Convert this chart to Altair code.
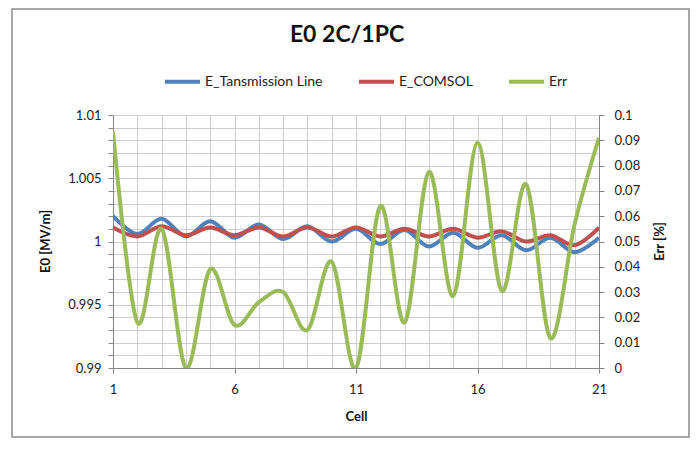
import altair as alt
import pandas as pd

cells = list(range(1, 22))
e_tl = [1.0020, 1.0006, 1.0018, 1.0004, 1.0016, 1.0003, 1.00135, 1.0002, 1.0012, 1.0000, 1.0010,
        0.9998, 1.0009, 0.9996, 1.0007, 0.9995, 1.0005, 0.9993, 1.0003, 0.99915, 1.0003]
e_comsol = [1.0011, 1.0004, 1.0012, 1.0005, 1.0011, 1.0005, 1.0011, 1.0004, 1.0011, 1.0004, 1.0011,
            1.0004, 1.0010, 1.0004, 1.0010, 1.0003, 1.0008, 1.0000, 1.0005, 0.9997, 1.0011]
err = [0.0934, 0.018, 0.055, 0.0, 0.039, 0.017, 0.026, 0.030, 0.015, 0.042, 0.0,
       0.064, 0.018, 0.0775, 0.0285, 0.089, 0.0305, 0.0726, 0.0118, 0.057, 0.091]

series_names = ["E_Tansmission Line", "E_COMSOL", "Err"]
series_colors = ["#4F81BD", "#C0504D", "#9BBB59"]
left_ticks = [round(0.99 + i * 0.001, 3) for i in range(21)]
right_ticks = [round(i * 0.01, 2) for i in range(11)]

df = pd.DataFrame({"Cell": cells, "E_Tansmission Line": e_tl, "E_COMSOL": e_comsol, "Err": err})

FONT = "Lato"
AX = "#868686"
GRID = "#CFCFCF"

x_enc = alt.X(
    "Cell:Q",
    scale=alt.Scale(domain=[1, 21], nice=False, zero=False),
    axis=alt.Axis(
        values=cells, grid=True, gridColor=GRID, labelOverlap=False, labelFlush=False,
        labelExpr="(datum.value - 1) % 5 === 0 ? datum.label : ''",
        tickColor={"condition": {"test": "(datum.value - 1) % 5 === 0", "value": AX}, "value": "transparent"},
        tickSize=5, labelPadding=10, title="Cell", titleX=243, titleY=48,
        titleBaseline="middle", titleAlign="center",
    ),
)

color_enc = alt.Color(
    "Series:N",
    scale=alt.Scale(domain=series_names, range=series_colors),
    legend=alt.Legend(
        title=None, orient="none", direction="horizontal", legendX=50, legendY=-53,
        symbolType="stroke", symbolSize=1225, symbolStrokeWidth=4, labelFontSize=14,
        labelFont=FONT, labelColor="#222", columnPadding=28, labelOffset=3,
    ),
)

left = alt.Chart(df).transform_fold(
    ["E_Tansmission Line", "E_COMSOL"], as_=["Series", "Value"]
).mark_line(strokeWidth=4, interpolate="cardinal", clip=True).encode(
    x=x_enc,
    y=alt.Y(
        "Value:Q",
        scale=alt.Scale(domain=[0.99, 1.01], nice=False, zero=False),
        axis=alt.Axis(
            values=left_ticks, grid=True, gridColor=GRID, orient="left",
            labelExpr="round(datum.value * 1000) % 5 === 0 ? format(datum.value, '.3~f') : ''",
            labelOverlap=False, tickSize=5, labelPadding=7,
            title="E0 [MV/m]", titleAngle=270, titleX=-68, titleY=126,
            titleBaseline="middle", titleAlign="center",
        ),
    ),
    color=color_enc,
)

right = alt.Chart(df).transform_calculate(Series="'Err'").mark_line(
    strokeWidth=4, interpolate="cardinal", clip=True
).encode(
    x=x_enc,
    y=alt.Y(
        "Err:Q",
        scale=alt.Scale(domain=[0, 0.1], nice=False, zero=False),
        axis=alt.Axis(
            values=right_ticks, grid=False, orient="right", format="~g",
            labelOverlap=False, tickSize=5, labelPadding=10,
            title="Err [%]", titleAngle=270, titleX=60, titleY=126,
            titleBaseline="middle", titleAlign="center",
        ),
    ),
    color=color_enc,
)

frame = alt.Chart(alt.Data(values=[{}])).mark_rect(
    fill="transparent", stroke="#8A8A8A", strokeWidth=1.5
).encode(
    x=alt.value(-101), x2=alt.value(576), y=alt.value(-106), y2=alt.value(322)
)

chart = alt.layer(frame, left, right).resolve_scale(y="independent").properties(
    width=486,
    height=253,
    padding={"left": 105, "top": 107, "right": 91, "bottom": 70},
    autosize=alt.AutoSizeParams(type="none"),
    title=alt.TitleParams(
        text="E0 2C/1PC", fontSize=23, font=FONT, fontWeight="bold", color="#111",
        anchor="middle", dx=-9, dy=61, offset=22,
    ),
).configure_view(stroke=GRID).configure_axis(
    domainColor=AX, tickColor=AX, labelFont=FONT, labelFontSize=13, labelColor="#222",
    titleFont=FONT, titleFontSize=13, titleFontWeight="bold", titleColor="#111",
)

chart.save("out.html", embed_options={"renderer": "svg", "actions": False})
